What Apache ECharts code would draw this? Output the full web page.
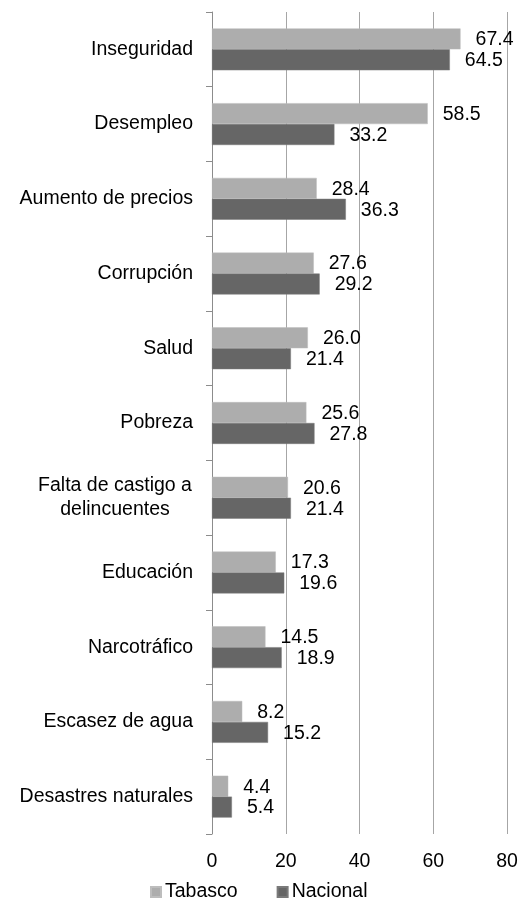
<!DOCTYPE html>
<html>
<head>
<meta charset="utf-8">
<script src="https://cdn.jsdelivr.net/npm/echarts@6/dist/echarts.min.js"></script>
<style>html,body{margin:0;padding:0;background:#fff}#c{width:525px;height:899px}</style>
</head>
<body>
<div id="c"></div>
<script>
var categories = ['Inseguridad','Desempleo','Aumento de precios','Corrupción','Salud','Pobreza','Falta de castigo a\ndelincuentes','Educación','Narcotráfico','Escasez de agua','Desastres naturales'];
var tabasco = [67.4, 58.5, 28.4, 27.6, 26.0, 25.6, 20.6, 17.3, 14.5, 8.2, 4.4];
var nacional = [64.5, 33.2, 36.3, 29.2, 21.4, 27.8, 21.4, 19.6, 18.9, 15.2, 5.4];
var xTicks = [0, 20, 40, 60, 80];

var FONT = 'Liberation Sans, Arial, sans-serif';
var FS = 19.5;
var chart = echarts.init(document.getElementById('c'), null, {renderer: 'canvas'});
var lbl = {show: true, position: 'right', distance: 15, color: '#000', fontFamily: FONT, fontSize: FS,
  offset: [0, 1],
  formatter: function (p) { return p.value.toFixed(1); }};
chart.setOption({
  animation: false,
  textStyle: {fontFamily: FONT},
  grid: {left: 212, right: 18, top: 12, bottom: 65, containLabel: false},
  legend: {
    left: 145, top: 877, itemWidth: 10, itemHeight: 10, itemGap: 39,
    icon: 'rect',
    textStyle: {fontFamily: FONT, fontSize: FS, color: '#000', padding: [0,0,0,-1]},
    data: ['Tabasco', 'Nacional']
  },
  xAxis: {
    type: 'value', min: xTicks[0], max: xTicks[xTicks.length - 1], interval: 20,
    axisLine: {show: false}, axisTick: {show: false},
    splitLine: {show: true, lineStyle: {color: '#a6a6a6', width: 1}},
    axisLabel: {color: '#000', fontFamily: FONT, fontSize: FS, margin: 18}
  },
  yAxis: {
    type: 'category', data: categories, inverse: true,
    axisLine: {show: true, lineStyle: {color: '#8c8c8c'}},
    axisTick: {show: true, length: 6, lineStyle: {color: '#8c8c8c'}},
    axisLabel: {
      color: '#000', fontFamily: FONT, fontSize: FS, margin: 19, align: 'right',
      formatter: function (v) {
        if (v.indexOf('\n') >= 0) {
          return v.split('\n').map(function (s) { return '{c|' + s + '}'; }).join('\n');
        }
        return v;
      },
      rich: {c: {width: 156, align: 'center', fontFamily: FONT, fontSize: FS, color: '#000', lineHeight: 23.5}}
    }
  },
  series: [
    {name: 'Tabasco', type: 'bar', data: tabasco, barGap: '0%', barCategoryGap: '44%',
      itemStyle: {color: '#adadad', borderColor: '#bdbdbd', borderWidth: 0.5}, label: lbl},
    {name: 'Nacional', type: 'bar', data: nacional, barGap: '0%', barCategoryGap: '44%',
      itemStyle: {color: '#666666', borderColor: '#7a7a7a', borderWidth: 0.5}, label: lbl}
  ]
});
</script>
</body>
</html>
